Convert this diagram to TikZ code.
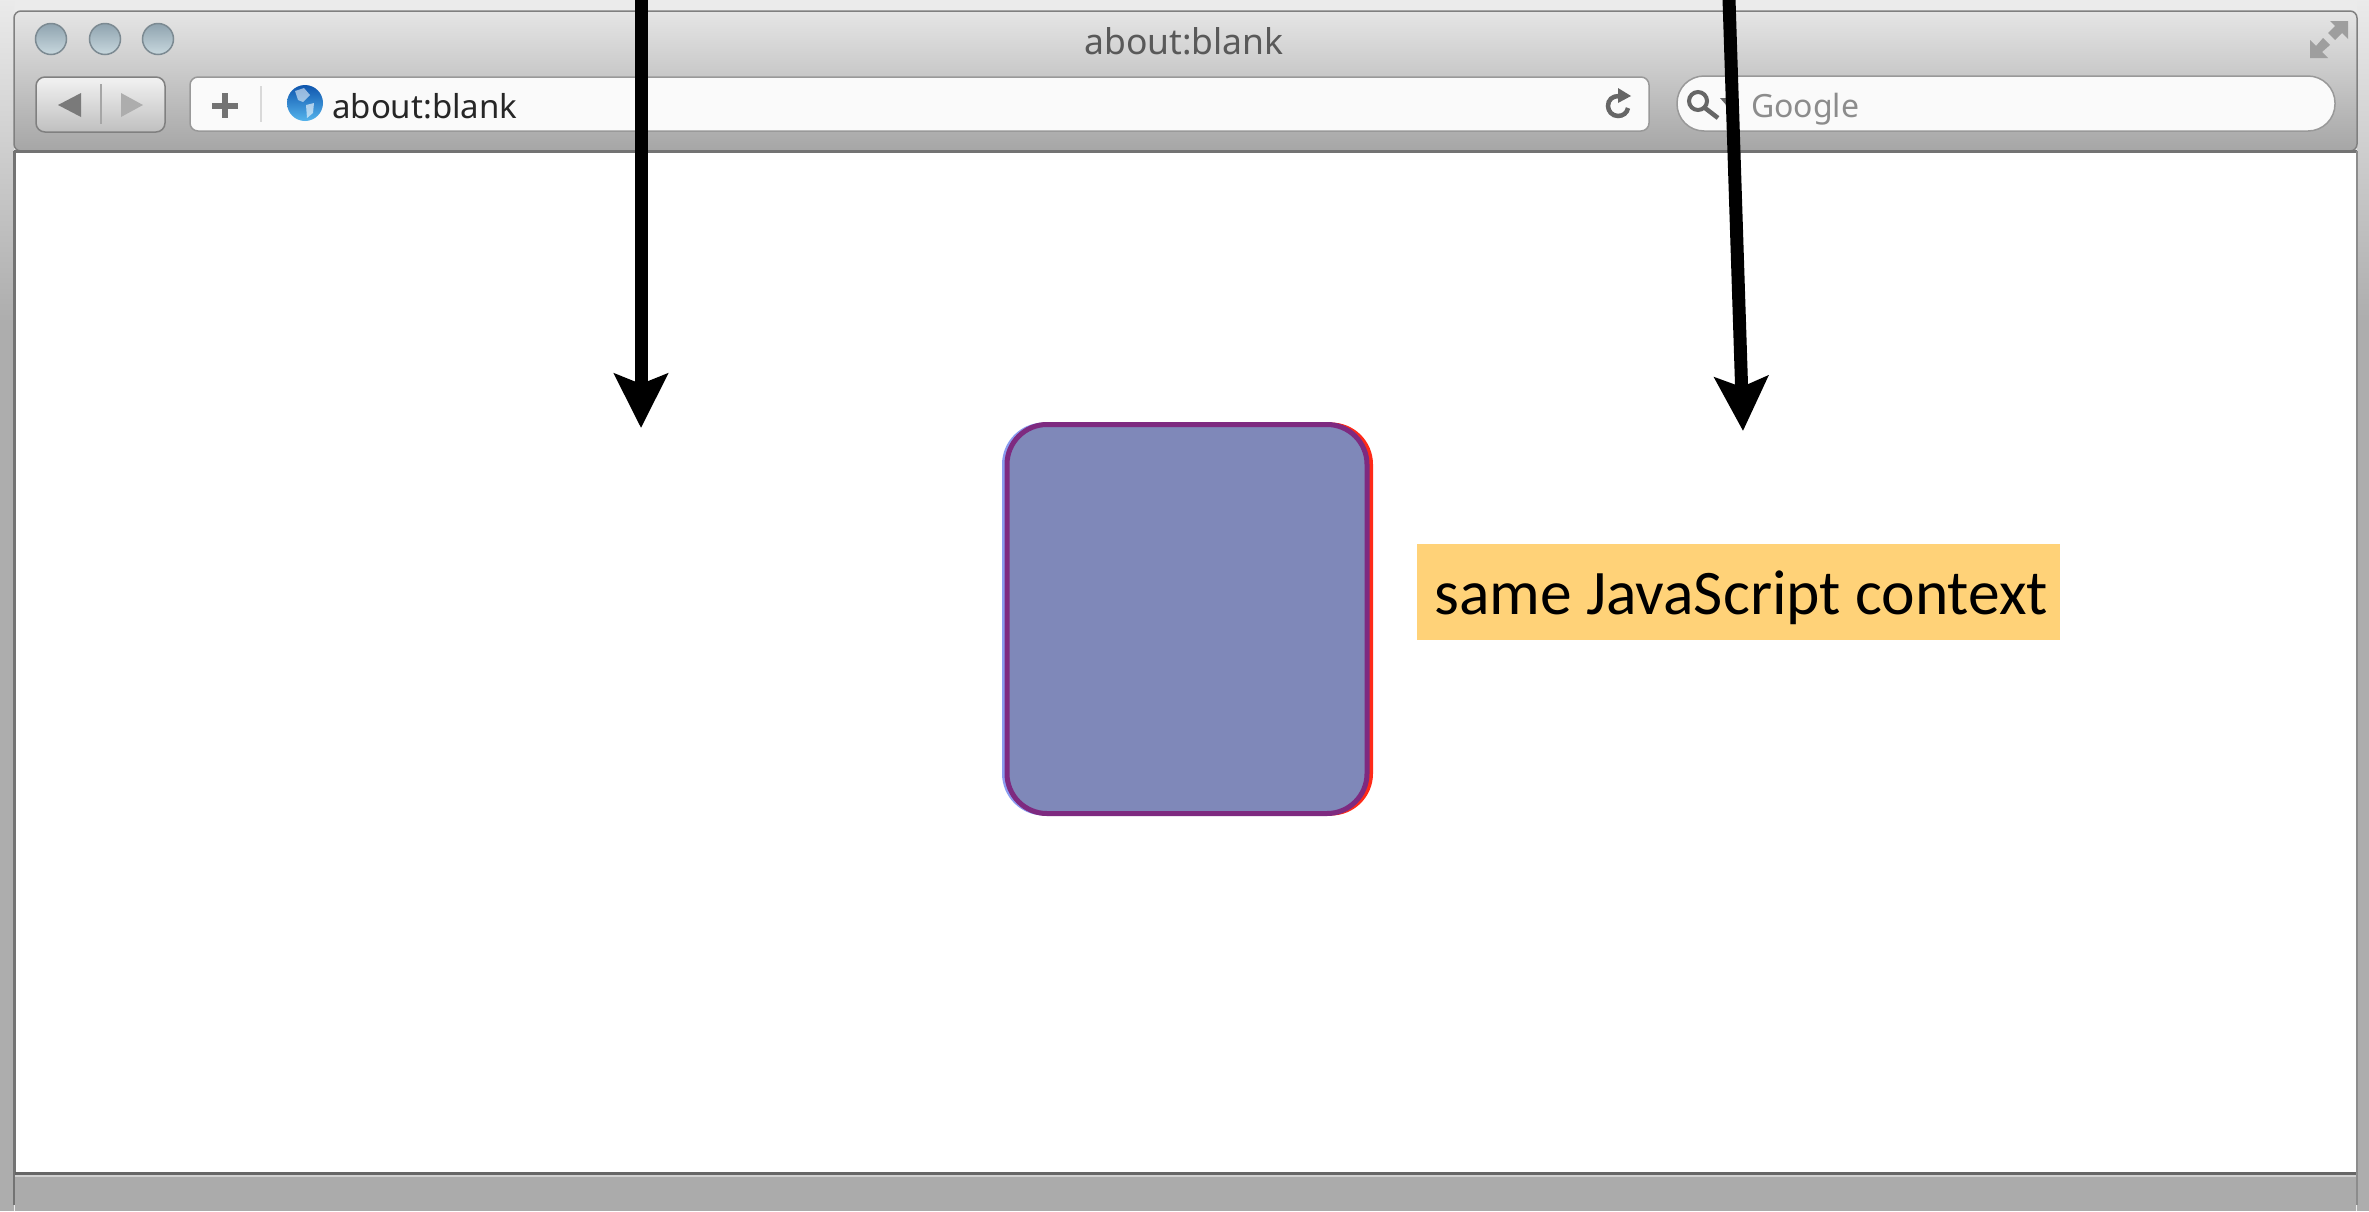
\documentclass[tikz,border=0pt]{standalone}
\usepackage{fontspec}
\setmainfont{Noto Sans}
\newfontfamily\gillfont{Carlito}
\usetikzlibrary{arrows.meta}
\definecolor{boxfill}{HTML}{7F88B9}
\definecolor{boxline}{HTML}{7E2A80}
\definecolor{notefill}{HTML}{FFD278}
\definecolor{lamptop}{HTML}{8FA3AF}
\definecolor{lampbot}{HTML}{C8D8DE}
\definecolor{lampedge}{HTML}{7C8A92}
\definecolor{globetop}{HTML}{0F56AE}
\definecolor{globebot}{HTML}{55B4EC}
\definecolor{edgeblue}{HTML}{8A9CF0}
\definecolor{edgered}{HTML}{FF2A18}
\tikzset{
  bigarrow/.style={line width=13pt,-{Stealth[length=54pt,width=53pt,inset=10pt]}},
  lamp/.style={circle,minimum size=31pt,inner sep=0pt,draw=lampedge,line width=1.5pt,top color=lamptop,bottom color=lampbot},
  field/.style={draw=black!40,line width=1.5pt,fill=black!2},
  chrometext/.style={inner sep=0pt,anchor=base west},
  roundpage/.style={rounded corners=40pt}
}
\begin{document}
\begin{tikzpicture}[x=1pt,y=-1pt]
\useasboundingbox (0,0) rectangle (2369,1211);
% outer
\fill[black!8] (0,0) rectangle (2369,1211);
\shade[top color=black!8,bottom color=black!32] (0,0) rectangle (14,320);
\shade[top color=black!8,bottom color=black!32] (2357,0) rectangle (2369,320);
\fill[black!32] (0,320) rectangle (14,1211);
\fill[black!32] (2357,320) rectangle (2369,1211);
% title bar
\shade[top color=black!10,middle color=black!15,bottom color=black!35,draw=black!50,line width=1.5pt,rounded corners=7pt] (14,11) rectangle (2357,151);
% content
\fill[white] (14,151) rectangle (2357,1172);
\draw[black!55,line width=3pt] (14,151) -- (2357,151);
\draw[black!55,line width=3pt] (14,151) -- (14,1205);
\draw[black!45,line width=2pt] (2357,151) -- (2357,1205);
% status bar
\fill[black!33] (15,1172) rectangle (2356,1211);
\draw[black!60,line width=3pt] (15,1173) -- (2356,1173);
\draw[black!18,line width=1.5pt] (15,1176) -- (2356,1176);
% traffic lights
\node[lamp] (lamp1) at (51,39) {};
\node[lamp] (lamp2) at (105,39) {};
\node[lamp] (lamp3) at (158,39) {};
\node[anchor=center,text=black!65,inner sep=0pt,font=\fontsize{35.5}{36}\selectfont] (title) at (1184,41) {about:blank};
% back / forward
\shade[top color=black!5,bottom color=black!25,draw=black!50,line width=1.5pt,rounded corners=9pt] (36,77) rectangle (165,132);
\draw[black!35,line width=1.5pt] (101,84) -- (101,124);
\fill[black!52] (81,93) -- (81,117) -- (58,105) -- cycle;
\fill[black!32] (121,93) -- (121,117) -- (143,105) -- cycle;
% address field
\draw[field,rounded corners=8pt] (190,77) rectangle (1649,131);
\fill[black!55] (222,93) rectangle (228,118);
\fill[black!55] (212,102.5) rectangle (238,108.5);
\draw[black!15,line width=1.5pt] (261,86) -- (261,122);
\shade[top color=globetop,bottom color=globebot] (305,103) circle (18);
\fill[white,opacity=.55] (295,91) -- (304,88) -- (310,95) -- (303,102) -- (298,100) -- cycle;
\fill[white,opacity=.6] (306,105) -- (314,103) -- (313,113) -- (307,118) -- cycle;
\node[chrometext,text=black!85,font=\fontsize{33}{33}\selectfont] (addr) at (332,118) {about:blank};
% reload
\draw[black!60,line width=4.5pt] (1628,108) .. controls (1627,113) and (1623,116) .. (1618,116) .. controls (1612,116) and (1608,111) .. (1608,106) .. controls (1608,100) and (1612,96) .. (1619,96);
\fill[black!60] (1618,88) -- (1631,96) -- (1618,103) -- cycle;
% search field
\draw[field,rounded corners=27pt] (1677,76) rectangle (2335,131);
\draw[black!60,line width=4pt] (1698,101) circle (9);
\draw[black!60,line width=4.5pt] (1705,108) -- (1718,118);
\fill[black!60] (1720,98) -- (1734,98) -- (1727,106) -- cycle;
\node[chrometext,text=black!45,font=\fontsize{32}{32}\selectfont] (google) at (1751,117) {Google};
% resize
\fill[black!38] (2310,40) -- (2310,58) -- (2328,58) -- (2322,52) -- (2330,45) -- (2323,38) -- (2316,46) -- cycle;
\fill[black!38] (2348,21) -- (2348,39) -- (2342,33) -- (2335,40) -- (2328,33) -- (2335,26) -- (2330,21) -- cycle;
% page box
\draw[edgeblue,line width=4pt,roundpage] (1004,424.5) rectangle (1367,813.5);
\draw[edgered,line width=4pt,roundpage] (1007,424.5) rectangle (1371,813.5);
\draw[boxline,fill=boxfill,line width=5pt,roundpage] (1007,424.5) rectangle (1367,813.5);
% note
\node[fill=notefill,minimum width=643pt,minimum height=96pt,anchor=north west,inner sep=0pt] (note) at (1417,544) {};
\node[inner sep=0pt,anchor=base west,font=\gillfont\fontsize{63.5}{64}\selectfont] (notetext) at (1434,614) {same JavaScript context};
% arrows
\coordinate (a1s) at (641,-1);
\coordinate (a1e) at (641,428);
\coordinate (a2s) at (1729,-1);
\coordinate (a2e) at (1743,431);
\draw[bigarrow] (a1s) -- (a1e);
\draw[bigarrow] (a2s) -- (a2e);
\end{tikzpicture}
\end{document}
